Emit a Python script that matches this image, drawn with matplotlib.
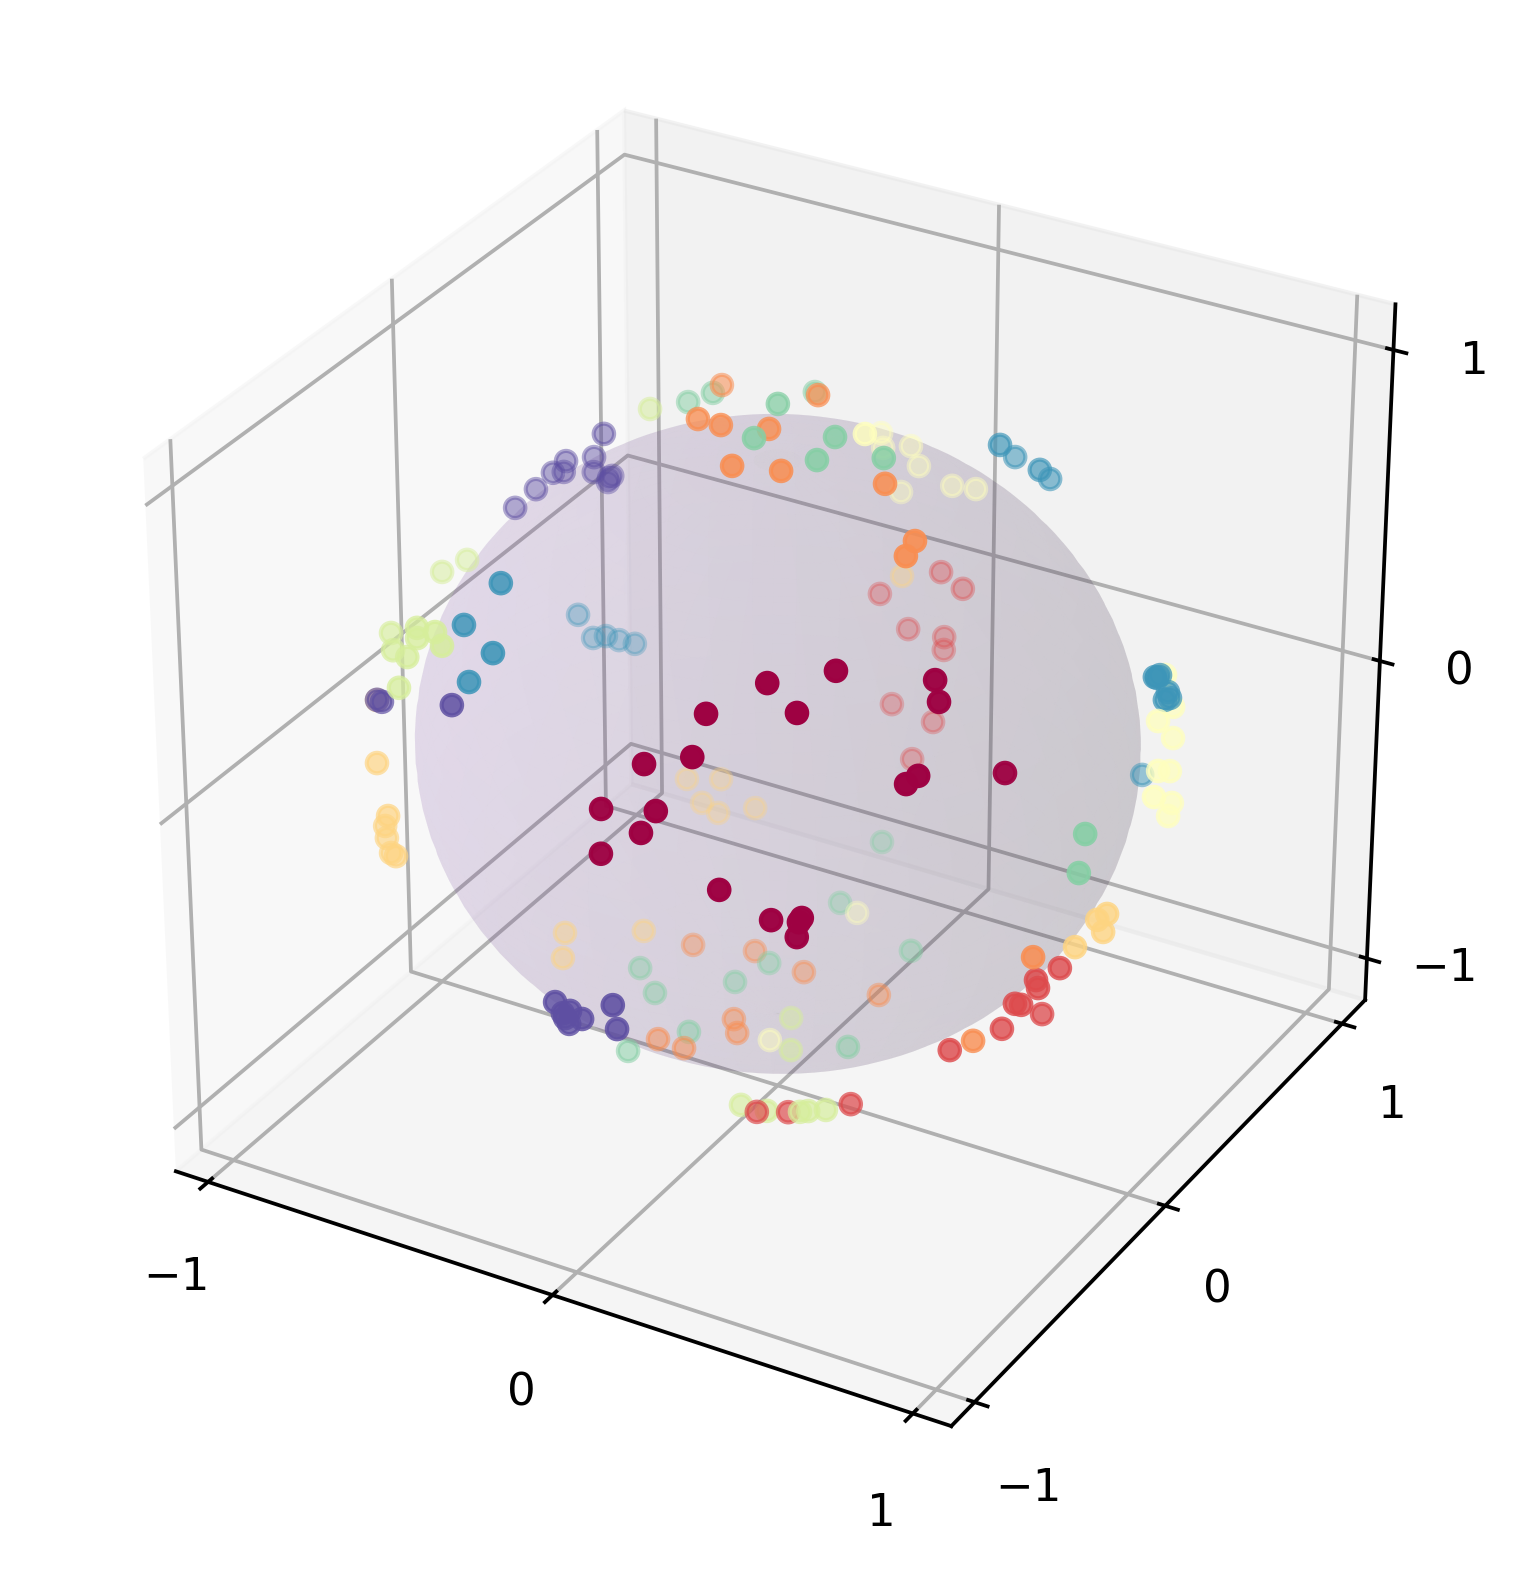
import numpy as np
import matplotlib
matplotlib.use('Agg')
import matplotlib.pyplot as plt

plt.rcParams['grid.linewidth'] = 0.9
plt.rcParams['axes.linewidth'] = 0.9
plt.rcParams['xtick.major.width'] = 0.9
plt.rcParams['ytick.major.width'] = 0.9

# points on the unit sphere, one list per class, (x, y, z) in thousandths
class_0 = [(345,-661,666),(239,-767,595),(471,-554,686),(430,-669,606),(657,-405,636),(682,-431,591),
           (239,-833,498),(132,-876,465),(51,-941,335),(186,-915,359),(160,-941,297),(68,-973,219),
           (359,-917,173),(476,-875,94),(699,-563,441),(683,-593,427),(836,-383,394),(538,-837,100),
           (533,-842,88),(530,-847,43)]
class_1 = [(-79,997,-7),(-16,999,-44),(-240,964,-113),(-157,966,-206),(-57,977,-207),(-53,968,-244),
           (-163,892,-421),(-43,895,-444),(-71,835,-546),(929,-258,-265),(904,-334,-267),(899,-313,-307),
           (866,-369,-336),(870,-344,-353),(859,-211,-467),(824,-354,-441),(747,-477,-463),(479,-485,-732),
           (310,-497,-813),(243,-535,-813)]
class_2 = [(-432,482,762),(-207,-27,978),(-133,-44,990),(-14,-17,1000),(-12,-201,980),(103,-165,981),
           (-26,248,968),(322,-45,946),(465,-156,871),(471,-212,856),(-361,198,-911),(-225,280,-933),
           (-237,-195,-952),(-171,-178,-969),(-146,32,-989),(-109,-16,-994),(-82,282,-956),(141,275,-951),
           (914,-371,-168),(784,-427,-450)]
class_3 = [(-897,-434,84),(-777,-629,28),(-690,-721,-62),(-761,-625,-173),(-748,-639,-200),(-728,-653,-234),
           (-678,-709,-195),(-575,540,-615),(-505,596,-624),(-522,526,-671),(-479,535,-696),(-405,599,-691),
           (-593,-53,-803),(-550,-136,-824),(-474,141,-869),(-185,982,-45),(981,-115,-157),(976,-157,-153),
           (969,-110,-222),(952,-225,-209)]
class_4 = [(180,112,977),(-177,849,498),(-190,884,428),(-108,881,460),(-106,921,375),(-174,952,253),
           (-23,947,322),(49,940,337),(879,372,299),(908,363,211),(942,213,260),(941,300,157),
           (978,148,149),(967,235,96),(990,105,94),(968,249,-14),(977,212,-32),(-45,496,-867),
           (-25,4,-1000)]
class_5 = [(-618,442,650),(-968,117,221),(-970,0,243),(-891,-370,268),(-692,-563,452),(-603,-622,499),
           (-674,-592,441),(-555,-668,496),(-793,-516,323),(-693,-609,384),(-692,-652,310),(141,-435,-889),
           (251,-499,-829),(335,-482,-812),(352,-471,-810),(389,-448,-807),(-26,116,-993),(45,-12,-999)]
class_6 = [(-551,518,654),(-484,527,699),(-69,124,990),(-24,-73,997),(-268,666,696),(136,42,990),
           (153,-78,985),(268,47,962),(-418,26,-908),(-346,-23,-938),(-215,159,-963),(-175,266,-948),
           (-203,-98,-974),(-244,-332,-911),(-70,673,-736),(-100,505,-857),(149,430,-890),(173,55,-983),
           (966,-212,149),(968,-245,45)]
class_7 = [(-436,-584,685),(-501,-652,570),(-369,-735,569),(-416,-771,483),(-865,486,-125),(-835,510,-206),
           (-815,541,-210),(-791,567,-230),(-762,598,-250),(344,505,792),(250,767,591),(427,560,710),
           (368,731,575),(894,286,344),(887,328,325),(894,298,335),(899,350,263),(903,354,243),
           (914,304,268),(663,696,-277)]
class_8 = [(-728,398,559),(-810,347,472),(-839,330,434),(-830,368,420),(-780,435,449),(-800,466,378),
           (-780,524,342),(-791,521,320),(-786,518,336),(-872,300,386),(-906,253,339),(-453,-792,410),
           (-846,-513,145),(-783,-589,201),(-85,-942,-324),(-45,-939,-340),(-71,-930,-362),(-15,-933,-359),
           (-65,-911,-406),(-70,-921,-383),(89,-962,-260),(81,-930,-359)]
classes = [class_0, class_1, class_2, class_3, class_4, class_5, class_6, class_7, class_8]
ticks = [-1, 0, 1]

points = np.array([p for c in classes for p in c]) / 1000
labels = np.concatenate([np.full(len(c), i) for i, c in enumerate(classes)])

fig = plt.figure(figsize=(1524 / 300, 1570 / 300), dpi=300)
ax = fig.add_axes([0.02131, 0.0512, 0.95633, 0.92831], projection='3d')
ax.set_box_aspect((1, 1, 0.91))

# translucent ball
u = np.linspace(0, 2 * np.pi, 100)
v = np.linspace(0, np.pi, 50)
r = 0.899
ax.plot_surface(r * np.outer(np.cos(u), np.sin(v)),
                r * np.outer(np.sin(u), np.sin(v)),
                r * np.outer(np.ones_like(u), np.cos(v)),
                color='#8a5ab0', alpha=0.1, linewidth=0)

ax.scatter(points[:, 0], points[:, 1], points[:, 2], c=labels / 8, cmap='Spectral', vmin=0, vmax=1, s=24)

ax.set_xlim(-1.096, 1.104)
ax.set_ylim(-1.117, 1.136)
ax.set_zlim(-1.143, 1.143)
ax.set_xticks(ticks)
ax.set_yticks(ticks)
ax.set_zticks(ticks)
ax.tick_params(labelsize=10.8, pad=4.3)

fig.savefig('out.png')
